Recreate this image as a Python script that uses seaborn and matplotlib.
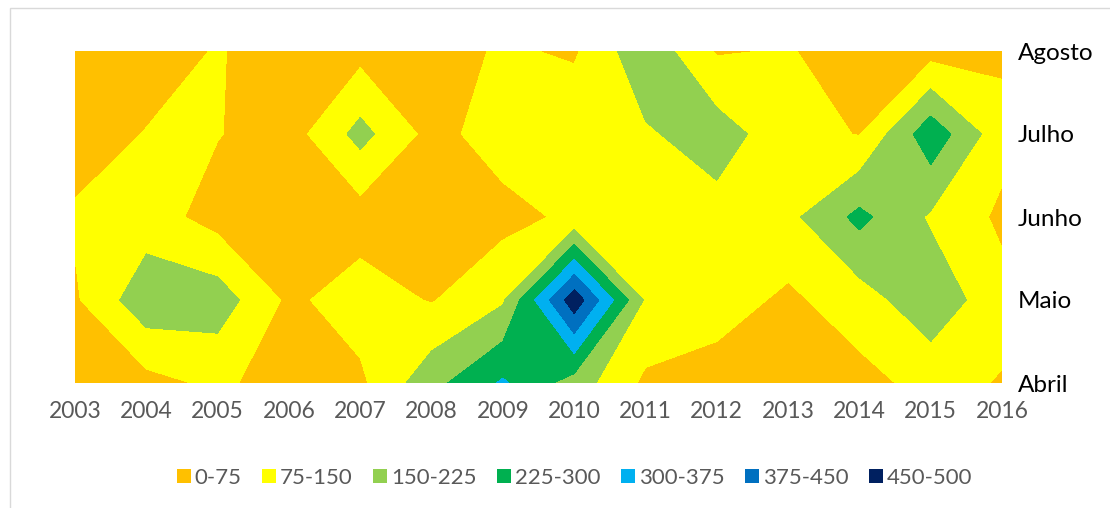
import numpy as np
import matplotlib
matplotlib.use("Agg")
import matplotlib.pyplot as plt
import seaborn as sns
from matplotlib.patches import Patch, Rectangle

years = list(range(2003, 2017))
months = ["Abril", "Maio", "Junho", "Julho", "Agosto"]

abril  = [60, 50, 90, 40, 60, 200, 310, 190, 60, 40, 40, 50, 100, 70]
maio   = [65, 200, 190, 60, 110, 70, 140, 500, 140, 110, 60, 115, 200, 100]
junho  = [85, 110, 45, 40, 40, 74, 50, 90, 130, 120, 130, 245, 140, 60]
julho  = [40, 78, 78, 40, 175, 50, 110, 130, 140, 188, 100, 72, 275, 100]
agosto = [30, 40, 80, 40, 50, 40, 85, 65, 205, 68, 80, 40, 45, 62]

levels = [0, 75, 150, 225, 300, 375, 450, 500]
range_labels = ["0-75", "75-150", "150-225", "225-300", "300-375", "375-450", "450-500"]
colors = ["#FFC000", "#FFFF00", "#92D050", "#00B050", "#00B0F0", "#0070C0", "#002060"]

sns.set_theme(style="white")
plt.rcParams['font.family'] = ['Lato', 'DejaVu Sans']
palette = sns.color_palette(colors)

fig = plt.figure(figsize=(11.1, 5.08), dpi=100)
ax = fig.add_axes([75 / 1110, 1 - 383 / 508, (1002 - 75) / 1110, (383 - 51) / 508])

Z = np.array([abril, maio, junho, julho, agosto], dtype=float)
ax.contourf(years, np.arange(len(months)), Z, levels=levels, colors=palette)

ax.set_xlim(years[0], years[-1])
ax.set_ylim(0, len(months) - 1)
ax.set_xticks(years)
ax.set_xticklabels([str(y) for y in years])
ax.yaxis.tick_right()
ax.set_yticks(range(len(months)))
ax.set_yticklabels(months)
for s in ax.spines.values():
    s.set_visible(False)
ax.tick_params(axis='x', length=0, pad=13, labelsize=16.5, labelcolor='#595959')
ax.tick_params(axis='y', length=0, pad=11.5, labelsize=17.5, labelcolor='black')
ax.grid(False)

handles = [Patch(facecolor=c, edgecolor='none', label=l) for c, l in zip(palette, range_labels)]
fig.legend(handles=handles, loc='center', bbox_to_anchor=(0.5176, 0.059), ncol=7,
           frameon=False, handlelength=0.63, handleheight=0.63, handletextpad=0.15,
           columnspacing=0.95, fontsize=16, labelcolor='#595959')

fig.patches.append(Rectangle((10 / 1110, -0.02), 1.2, 1 - 8 / 508 + 0.02,
                             transform=fig.transFigure, fill=False,
                             edgecolor='#D9D9D9', linewidth=1))

fig.savefig("out.png", dpi=100)
